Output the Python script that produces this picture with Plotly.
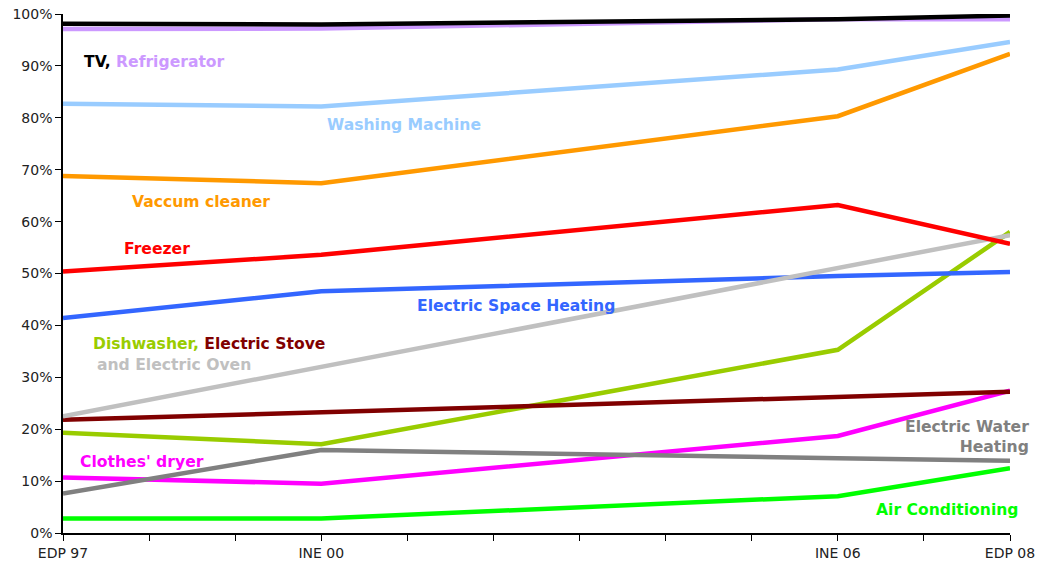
import plotly.graph_objects as go

years = [1997, 2000, 2006, 2008]
tick_years = list(range(1997, 2009))
tick_labels = {1997: "EDP 97", 2000: "INE 00", 2006: "INE 06", 2008: "EDP 08"}
y_ticks = list(range(0, 101, 10))
y_tick_labels = [f"{v}%" for v in y_ticks]

tv = [98.1, 98.0, 99.0, 99.7]
refrigerator = [97.1, 97.2, 99.0, 99.0]
washing = [82.7, 82.2, 89.3, 94.6]
vacuum = [68.8, 67.4, 80.3, 92.3]
freezer = [50.4, 53.6, 63.2, 55.7]
space_heating = [41.4, 46.6, 49.5, 50.3]
dishwasher = [19.3, 17.1, 35.3, 58.0]
stove = [21.8, 23.3, 26.2, 27.2]
oven = [22.5, 32.0, 51.0, 57.4]
dryer = [10.7, 9.5, 18.7, 27.4]
water_heating = [7.6, 16.0, 14.4, 13.9]
air_cond = [2.8, 2.8, 7.1, 12.5]

series = [
    ("Air Conditioning", air_cond, "#00FF00"),
    ("Clothes' dryer", dryer, "#FF00FF"),
    ("Dishwasher", dishwasher, "#99CC00"),
    ("Electric Stove", stove, "#800000"),
    ("Electric Water Heating", water_heating, "#808080"),
    ("Electric Space Heating", space_heating, "#3366FF"),
    ("Electric Oven", oven, "#C0C0C0"),
    ("Freezer", freezer, "#FF0000"),
    ("Vaccum cleaner", vacuum, "#FF9900"),
    ("Washing Machine", washing, "#99CCFF"),
    ("Refrigerator", refrigerator, "#CC99FF"),
    ("TV", tv, "#000000"),
]

FONT = "DejaVu Sans"

fig = go.Figure()
for name, vals, col in series:
    fig.add_trace(go.Scatter(x=years, y=vals, mode="lines", name=name,
                             line=dict(color=col, width=4.5), cliponaxis=False))

def ann(text, x, y, xanchor="left", align="left", xshift=0):
    fig.add_annotation(text=text, x=x, y=y, xref="x", yref="y", showarrow=False,
                       xanchor=xanchor, yanchor="middle", align=align, xshift=xshift,
                       font=dict(family=FONT, size=15.6))

def c(col, t):
    return f"<b><span style='color:{col}'>{t}</span></b>"

ann(c("#000000", "TV") + c("#000000", ", ") + c("#CC99FF", "Refrigerator"), 1997.22, 90.7)
ann(c("#99CCFF", "Washing Machine"), 2000.04, 78.6)
ann(c("#FF9900", "Vaccum cleaner"), 1997.78, 63.8)
ann(c("#FF0000", "Freezer"), 1997.69, 54.7)
ann(c("#3366FF", "Electric Space Heating"), 2001.09, 43.7)
ann(c("#99CC00", "Dishwasher, ") + c("#800000", "Electric Stove"), 1997.32, 36.4)
ann(c("#C0C0C0", "and Electric Oven"), 1997.37, 32.4)
ann(c("#FF00FF", "Clothes' dryer"), 1997.17, 13.7)
ann(c("#808080", "Electric Water<br>Heating"), 2008, 18.5, xanchor="right", align="right", xshift=21)
ann(c("#00FF00", "Air Conditioning"), 2008, 4.4, xanchor="right", align="right", xshift=11)

fig.update_layout(
    width=1047, height=571,
    margin=dict(l=63, r=37, t=14, b=38),
    plot_bgcolor="white", paper_bgcolor="white",
    showlegend=False,
    font=dict(family=FONT, size=14, color="#222222"),
)
fig.update_xaxes(
    range=[1997, 2008], tickmode="array", tickvals=tick_years,
    ticktext=[tick_labels.get(y, "") for y in tick_years],
    showline=True, linecolor="black", linewidth=1.5, automargin=False,
    ticks="outside", ticklen=6, tickcolor="black", showgrid=False, zeroline=False,
)
fig.update_yaxes(
    range=[0, 100], tickmode="array", tickvals=y_ticks, ticktext=y_tick_labels,
    showline=True, linecolor="black", linewidth=1.5, automargin=False,
    ticks="outside", ticklen=6, tickcolor="black", showgrid=False, zeroline=False,
)

fig.write_html("out.html")
